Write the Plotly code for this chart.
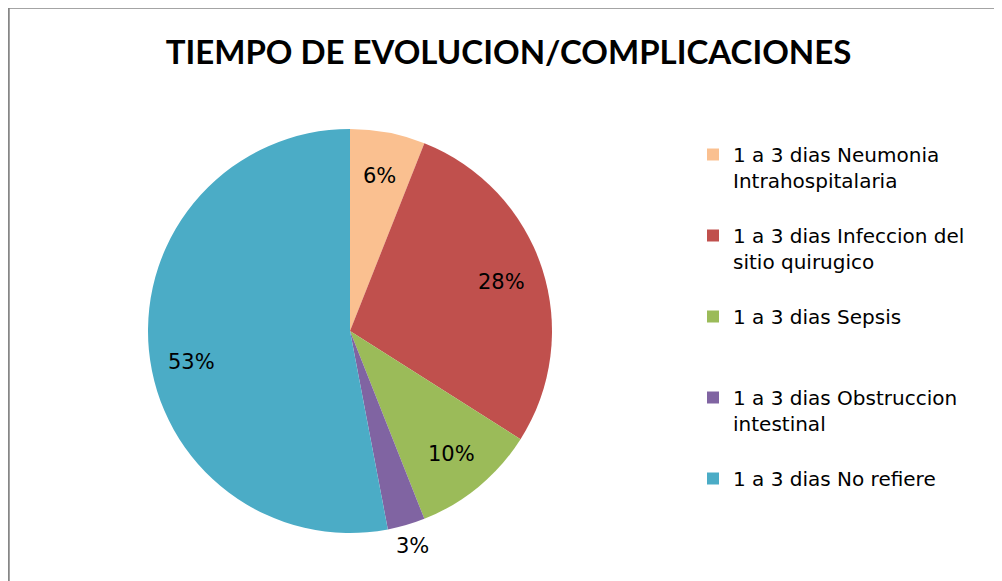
import numpy as np
import plotly.graph_objects as go

title = "TIEMPO DE EVOLUCION/COMPLICACIONES"
categories = [
    "1 a 3 dias Neumonia<br>Intrahospitalaria<br> ",
    "1 a 3 dias Infeccion del<br>sitio quirugico<br> ",
    "1 a 3 dias Sepsis<br> <br> ",
    "1 a 3 dias Obstruccion<br>intestinal<br> ",
    "1 a 3 dias No refiere",
]
values = [6, 28, 10, 3, 53]
colors = ["#FAC090", "#C0504D", "#9BBB59", "#8064A2", "#4BACC6"]
label_radius = [0.78, 0.79, 0.79, 1.11, 0.80]
label_angle_shift = [0, 0, 0, 0, -5.5]  # degrees

W, H = 1002, 581
# page is offset by the 8px default body margin
cx, cy, r = 342, 323, 202

fig = go.Figure()
fig.add_trace(go.Pie(
    labels=categories,
    values=values,
    sort=False,
    direction="clockwise",
    rotation=0,
    marker=dict(colors=colors, line=dict(width=0)),
    textinfo="none",
    hoverinfo="label+percent",
    domain=dict(x=[(cx - r) / W, (cx + r) / W], y=[1 - (cy + r) / H, 1 - (cy - r) / H]),
))

vals = np.array(values, dtype=float)
frac = vals / vals.sum()
mid = np.cumsum(frac) - frac / 2
annotations = []
for f, m, rr, sh in zip(frac, mid, label_radius, label_angle_shift):
    ang = 2 * np.pi * m + np.deg2rad(sh)
    px = cx + rr * r * np.sin(ang)
    py = cy - rr * r * np.cos(ang)
    annotations.append(dict(
        x=px / W, y=1 - py / H, xref="paper", yref="paper",
        text=f"{round(f * 100):.0f}%", showarrow=False,
        font=dict(family="DejaVu Sans, sans-serif", size=21, color="#000000"),
        xanchor="center", yanchor="middle",
    ))

fig.update_layout(
    width=W, height=H,
    margin=dict(l=0, r=0, t=0, b=0),
    paper_bgcolor="white",
    plot_bgcolor="white",
    title=dict(text=f"<b>{title}</b>", x=500.5 / W, xanchor="center", y=1 - 44 / H, yanchor="middle",
               font=dict(family="Lato, sans-serif", size=33, color="#000000")),
    legend=dict(
        x=685 / W, xanchor="left", y=1 - 127 / H, yanchor="top",
        font=dict(family="DejaVu Sans, sans-serif", size=20, color="#000000"),
        valign="top", bgcolor="rgba(0,0,0,0)",
    ),
    showlegend=True,
    annotations=annotations,
    shapes=[dict(type="rect", xref="paper", yref="paper",
                 x0=0.5 / W, x1=1.05, y0=-0.05, y1=1 + 0.5 / H,
                 line=dict(color="#868686", width=2.5), fillcolor="rgba(0,0,0,0)")],
)

fig.write_html("out.html")
